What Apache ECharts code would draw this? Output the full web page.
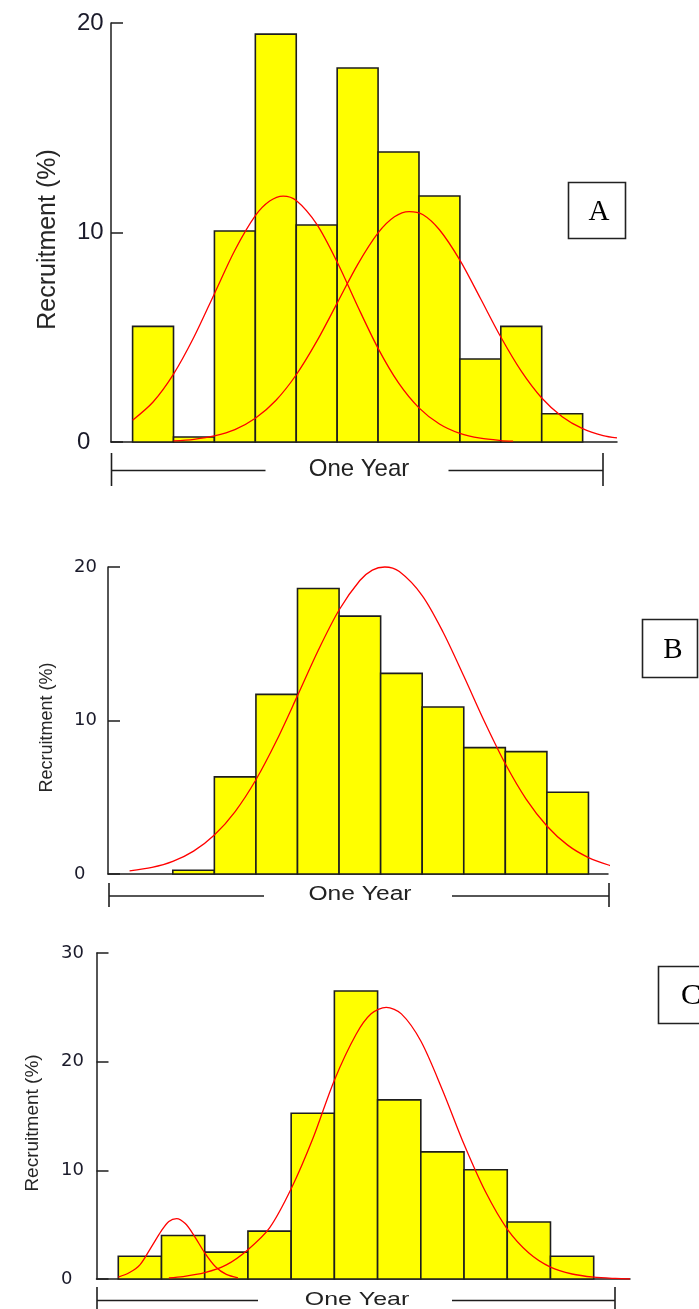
<!DOCTYPE html>
<html>
<head>
<meta charset="utf-8">
<script src="https://cdn.jsdelivr.net/npm/echarts@6/dist/echarts.min.js"></script>
<style>
html,body{margin:0;padding:0;background:#fff;}
#chart{width:699px;height:1309px;}
</style>
</head>
<body>
<div id="chart"></div>
<script>
// ---- Data (x in bin units: bar i spans [i, i+1]) ----
const barsA = [5.52, 0.24, 10.07, 19.47, 10.36, 17.85, 13.84, 11.74, 3.96, 5.52, 1.35];
const barsB = [0.24, 6.33, 11.7, 18.6, 16.8, 13.07, 10.88, 8.23, 7.97, 5.33];
const barsC = [2.1, 4.0, 2.47, 4.41, 15.25, 26.5, 16.48, 11.7, 10.06, 5.25, 2.1];

const curveA1 = [[0,1.04],[0.5,1.91],[1,3.24],[1.5,5.01],[2,7.08],[2.5,9.15],[3,10.8],[3.35,11.5],[3.68,11.74],[4,11.53],[4.5,10.4],[5,8.59],[5.5,6.48],[6,4.47],[6.5,2.82],[7,1.63],[7.5,0.86],[8,0.41],[8.5,0.18],[9,0.07],[9.3,0.04]];
const curveA2 = [[1,0.05],[1.5,0.13],[2,0.29],[2.5,0.59],[3,1.13],[3.5,1.98],[4,3.21],[4.5,4.8],[5,6.63],[5.5,8.47],[6,9.98],[6.4,10.75],[6.76,11.0],[7.1,10.85],[7.5,10.13],[8,8.68],[8.5,6.86],[9,5.01],[9.5,3.38],[10,2.1],[10.5,1.21],[11,0.64],[11.5,0.31],[11.84,0.2]];
const curveB = [[-1.04,0.21],[-0.5,0.43],[0,0.82],[0.5,1.49],[1,2.54],[1.5,4.07],[2,6.14],[2.5,8.71],[3,11.62],[3.5,14.58],[4,17.2],[4.5,19.12],[4.8,19.8],[5.1,20.0],[5.45,19.7],[6,18.14],[6.5,15.77],[7,12.9],[7.5,9.92],[8,7.18],[8.5,4.88],[9,3.13],[9.5,1.88],[10,1.07],[10.5,0.57],[10.85,0.35]];
const curveC1 = [[0,0.18],[0.25,0.57],[0.5,1.3],[0.75,2.85],[1,4.45],[1.17,5.3],[1.35,5.56],[1.55,5.1],[1.75,4.02],[2,2.41],[2.25,1.13],[2.5,0.42],[2.77,0.11]];
const curveC2 = [[1.17,0.11],[1.5,0.22],[2,0.58],[2.5,1.3],[3,2.7],[3.5,4.7],[4,8.3],[4.5,12.9],[5,18.3],[5.5,22.5],[5.85,24.4],[6.2,25.0],[6.55,24.4],[7,21.9],[7.5,17.4],[8,12.4],[8.5,8.0],[9,4.6],[9.5,2.4],[10,1.1],[10.5,0.46],[11,0.17],[11.5,0.05],[11.84,0.01]];

const yMaxA = 20, yMaxB = 20, yMaxC = 30;
const yStep = 10;
const yName = 'Recruitment (%)';
const xName = 'One Year';
const panelLabels = ['A', 'B', 'C'];

// ---- Styles ----
const INK = '#1e1e1e';
const BAR_FILL = '#ffff00';
const CURVE = '#ff0000';

function renderBar(params, api) {
  const p0 = api.coord([api.value(0), api.value(2)]);
  const p1 = api.coord([api.value(1), 0]);
  return {
    type: 'rect',
    shape: { x: p0[0], y: p0[1], width: p1[0] - p0[0], height: p1[1] - p0[1] },
    style: { fill: BAR_FILL, stroke: INK, lineWidth: 1.6 }
  };
}
const toBins = arr => arr.map((v, i) => [i, i + 1, v]);

function xAxisCfg(idx, min, max) {
  return {
    gridIndex: idx, type: 'value', min: min, max: max,
    axisLine: { show: true, onZero: false, lineStyle: { color: INK, width: 1.5 } },
    axisTick: { show: false }, axisLabel: { show: false }, splitLine: { show: false }
  };
}
function yAxisCfg(idx, max, labelFont, labelSize, nameSize, nameGap, margin) {
  return {
    gridIndex: idx, type: 'value', min: 0, max: max, interval: yStep, position: 'left',
    name: yName, nameLocation: 'middle', nameRotate: 90, nameGap: nameGap,
    nameTextStyle: { fontFamily: 'Liberation Sans, Arial, sans-serif', fontSize: nameSize, color: '#262626', padding: [0, 14, 0, 0] },
    axisLine: { show: true, onZero: false, lineStyle: { color: INK, width: 1.5 } },
    axisTick: { show: true, inside: true, length: 12, lineStyle: { color: INK, width: 1.5 } },
    axisLabel: { show: true, align: 'left', margin: margin, fontFamily: labelFont, fontSize: labelSize, color: '#1a1a2a' },
    splitLine: { show: false }
  };
}
function curveSeries(idx, data) {
  return {
    type: 'line', xAxisIndex: idx, yAxisIndex: idx, data: data,
    showSymbol: false, symbol: 'none', smooth: 0.3, clip: false,
    lineStyle: { color: CURVE, width: 1.3 }, z: 5, silent: true
  };
}
function barSeries(idx, data) {
  return { type: 'custom', xAxisIndex: idx, yAxisIndex: idx, data: toBins(data), renderItem: renderBar, z: 2, silent: true };
}

// bracket "One Year" graphics
function bracket(x1, x2, yLine, capTop, capBot, gapL, gapR, tx, ty, fs, sx) {
  const ls = { stroke: INK, lineWidth: 1.6 };
  return [
    { type: 'line', shape: { x1: x1, y1: capTop, x2: x1, y2: capBot }, style: ls },
    { type: 'line', shape: { x1: x2, y1: capTop, x2: x2, y2: capBot }, style: ls },
    { type: 'line', shape: { x1: x1, y1: yLine, x2: gapL, y2: yLine }, style: ls },
    { type: 'line', shape: { x1: gapR, y1: yLine, x2: x2, y2: yLine }, style: ls },
    { type: 'text', x: tx, y: ty, scaleX: sx, style: { text: xName, x: 0, y: 0, fontFamily: 'Liberation Sans, Arial, sans-serif', fontSize: fs, fill: '#222', align: 'center', verticalAlign: 'middle', textAlign: 'center', textVerticalAlign: 'middle' } }
  ];
}
function labelBox(x, y, w, h, label, tx, ty, fs) {
  return [
    { type: 'rect', shape: { x: x, y: y, width: w, height: h }, style: { fill: '#fff', stroke: '#222', lineWidth: 1.6 } },
    { type: 'text', x: tx, y: ty, style: { text: label, x: 0, y: 0, fontFamily: 'Liberation Serif, Times New Roman, serif', fontSize: fs, fill: '#000', align: 'center', verticalAlign: 'middle', textAlign: 'center', textVerticalAlign: 'middle' } }
  ];
}

const option = {
  backgroundColor: '#ffffff',
  animation: false,
  grid: [
    { left: 111, top: 23, width: 506, height: 419 },
    { left: 108, top: 567, width: 500, height: 307 },
    { left: 96.5, top: 953, width: 533.5, height: 326 }
  ],
  xAxis: [
    xAxisCfg(0, -0.528, 11.84),
    xAxisCfg(1, -1.559, 10.47),
    xAxisCfg(2, -0.504, 11.84)
  ],
  yAxis: [
    yAxisCfg(0, yMaxA, 'Liberation Sans, Arial, sans-serif', 24, 25, 50, 34),
    yAxisCfg(1, yMaxB, 'DejaVu Sans, sans-serif', 18, 18, 52, 34),
    yAxisCfg(2, yMaxC, 'DejaVu Sans, sans-serif', 18, 19, 54, 35.5)
  ],
  series: [
    barSeries(0, barsA), curveSeries(0, curveA1), curveSeries(0, curveA2),
    barSeries(1, barsB), curveSeries(1, curveB),
    barSeries(2, barsC), curveSeries(2, curveC1), curveSeries(2, curveC2)
  ],
  graphic: [].concat(
    bracket(111.5, 603, 470.5, 453, 486, 265.5, 448.5, 359, 469, 24, 1),
    bracket(109, 609, 896, 883, 907, 264, 452, 360, 894, 20, 1.23),
    bracket(97, 615, 1300.5, 1287, 1312, 258, 452, 357, 1299.5, 18.6, 1.34),
    labelBox(568.5, 182.5, 57, 56, panelLabels[0], 599, 212, 29),
    labelBox(642.5, 619.5, 55, 58, panelLabels[1], 673, 650, 29),
    labelBox(658.5, 966.5, 62, 57, panelLabels[2], 691, 996, 30)
  )
};

const chart = echarts.init(document.getElementById('chart'), null, { renderer: 'canvas' });
chart.setOption(option);
</script>
</body>
</html>
